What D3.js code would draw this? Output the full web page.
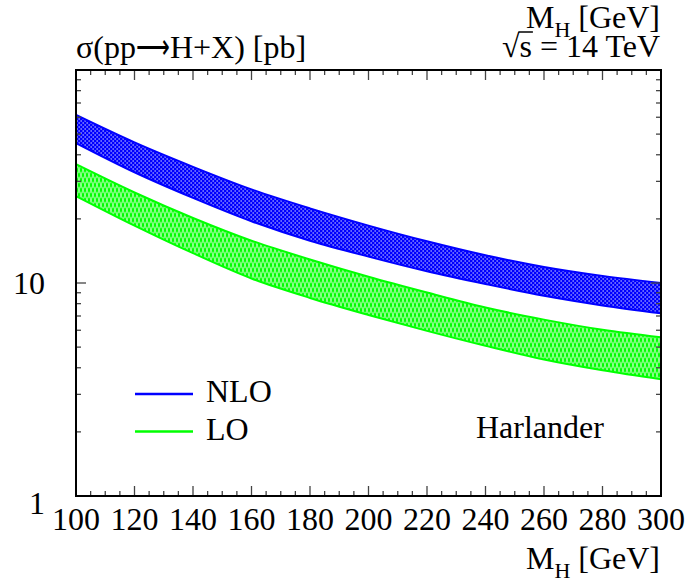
<!DOCTYPE html>
<html><head><meta charset="utf-8">
<script src="https://cdn.jsdelivr.net/npm/d3@7/dist/d3.min.js"></script>
<style>body{margin:0;background:#fff}svg{display:block}text{font-family:"Liberation Serif","Times New Roman",serif;fill:#000}</style>
</head><body><svg id="c" width="690" height="583"></svg>
<script>
const mh = [100,120,140,160,180,200,220,240,260,280,300];
const nloHigh = [61.5,45.7,35.1,27.5,22.4,18.6,15.7,13.5,11.9,10.8,10.0];
const nloLow  = [45.4,33.1,25.1,19.5,15.8,13.3,11.35,9.89,8.71,7.85,7.21];
const loHigh  = [36.1,26.6,20.2,15.8,12.9,10.7,9.02,7.67,6.73,6.03,5.56];
const loLow   = [25.6,18.6,13.8,10.5,8.51,7.08,5.96,5.07,4.37,3.89,3.53];
const xTickLabels = [100,120,140,160,180,200,220,240,260,280,300];
const yTickLabels = [1,10];
const legendItems = ["NLO","LO"];

const svg = d3.select("#c");
const L=76,R=661,T=70,B=496;
const x = d3.scaleLinear().domain([100,300]).range([L,R]);
const y = d3.scaleLog().domain([1,100]).range([B,T]);

const defs = svg.append("defs");
const p1 = defs.append("pattern").attr("id","pNLO").attr("patternUnits","userSpaceOnUse").attr("width",4).attr("height",4);
p1.append("rect").attr("width",4).attr("height",4).attr("fill","#0000ff");
p1.append("rect").attr("x",0.5).attr("y",0.5).attr("width",1.3).attr("height",1.0).attr("fill","#fff");
p1.append("rect").attr("x",2.5).attr("y",2.5).attr("width",1.3).attr("height",1.0).attr("fill","#fff");
const p2 = defs.append("pattern").attr("id","pLO").attr("patternUnits","userSpaceOnUse").attr("width",4).attr("height",10);
p2.append("rect").attr("width",4).attr("height",10).attr("fill","#00ff00");
p2.append("ellipse").attr("cx",1).attr("cy",5).attr("rx",0.55).attr("ry",3.6).attr("fill","#fff");
p2.append("ellipse").attr("cx",3).attr("cy",0).attr("rx",0.55).attr("ry",3.6).attr("fill","#fff");
p2.append("ellipse").attr("cx",3).attr("cy",10).attr("rx",0.55).attr("ry",3.6).attr("fill","#fff");

const clip = defs.append("clipPath").attr("id","clip");
clip.append("rect").attr("x",L).attr("y",T).attr("width",R-L).attr("height",B-T);

const g = svg.append("g").attr("clip-path","url(#clip)");
function band(hi, lo, pat, col){
  const data = mh.map((m,i)=>({m, hi:hi[i], lo:lo[i]}));
  const area = d3.area().curve(d3.curveMonotoneX).x(d=>x(d.m)).y0(d=>y(d.lo)).y1(d=>y(d.hi));
  g.append("path").datum(data).attr("d",area).attr("fill",`url(#${pat})`);
  const lh = d3.line().curve(d3.curveMonotoneX).x(d=>x(d.m)).y(d=>y(d.hi));
  const ll = d3.line().curve(d3.curveMonotoneX).x(d=>x(d.m)).y(d=>y(d.lo));
  g.append("path").datum(data).attr("d",lh).attr("fill","none").attr("stroke",col).attr("stroke-width",2);
  g.append("path").datum(data).attr("d",ll).attr("fill","none").attr("stroke",col).attr("stroke-width",2);
}
band(nloHigh,nloLow,"pNLO","#0000ff");
band(loHigh,loLow,"pLO","#00ff00");

const tk = svg.append("g").attr("stroke","#444").attr("stroke-width",1.3);
for(let v=100; v<=300; v+=5){
  const len = (v%20===0)?10:5;
  tk.append("line").attr("x1",x(v)).attr("x2",x(v)).attr("y1",B).attr("y2",B-len);
  tk.append("line").attr("x1",x(v)).attr("x2",x(v)).attr("y1",T).attr("y2",T+len);
}
y.ticks().forEach(v=>{
  const major = [1,10,100].includes(v);
  const len = major?10:5;
  tk.append("line").attr("x1",L).attr("x2",L+len).attr("y1",y(v)).attr("y2",y(v));
  tk.append("line").attr("x1",R).attr("x2",R-len).attr("y1",y(v)).attr("y2",y(v));
});
svg.append("rect").attr("x",L).attr("y",T).attr("width",R-L).attr("height",B-T).attr("fill","none").attr("stroke","#000").attr("stroke-width",2);

const fs = 32;
svg.append("g").selectAll("text").data(xTickLabels).join("text")
  .attr("x",d=>x(d)).attr("y",530).attr("text-anchor","middle").attr("font-size",fs).text(d=>d);
svg.append("g").selectAll("text").data(yTickLabels).join("text")
  .attr("x",45).attr("y",d=>d===1?514:y(d)+11).attr("text-anchor","end").attr("font-size",fs).text(d=>d);

// title with long arrow
const t1 = svg.append("text").attr("x",76).attr("y",58).attr("font-size",fs).text("σ(pp");
const w1 = t1.node().getComputedTextLength();
svg.append("text").attr("x",76+w1).attr("y",58).attr("font-size",fs)
  .attr("font-family","DejaVu Sans").attr("textLength",34).attr("lengthAdjust","spacingAndGlyphs").text("⟶");
svg.append("text").attr("x",76+w1+34).attr("y",58).attr("font-size",fs).text("H+X) [pb]");

function mhLabel(xr, yb){
  const t = svg.append("text").attr("x",xr).attr("y",yb).attr("text-anchor","end").attr("font-size",fs);
  t.append("tspan").text("M");
  t.append("tspan").attr("font-size",22).attr("dy",9).text("H");
  t.append("tspan").attr("dy",-9).text(" [GeV]");
}
mhLabel(660,28);
const rs = svg.append("text").attr("x",660).attr("y",57).attr("text-anchor","end").attr("font-size",fs).text("√s = 14 TeV");
const e0 = rs.node().getExtentOfChar(0), e1 = rs.node().getExtentOfChar(1);
svg.append("line").attr("x1",e0.x+e0.width-1).attr("x2",e1.x+e1.width+1)
  .attr("y1",e0.y+4).attr("y2",e0.y+4).attr("stroke","#000").attr("stroke-width",1.5);
mhLabel(660,569);

const cols = ["#0000ff","#00ff00"];
legendItems.forEach((n,i)=>{
  const yy = 394 + i*37.5;
  svg.append("line").attr("x1",135).attr("x2",193).attr("y1",yy).attr("y2",yy).attr("stroke",cols[i]).attr("stroke-width",2.5);
  svg.append("text").attr("x",206).attr("y",yy+8).attr("font-size",fs).text(n);
});
svg.append("text").attr("x",476).attr("y",438).attr("font-size",fs).text("Harlander");
</script></body></html>
